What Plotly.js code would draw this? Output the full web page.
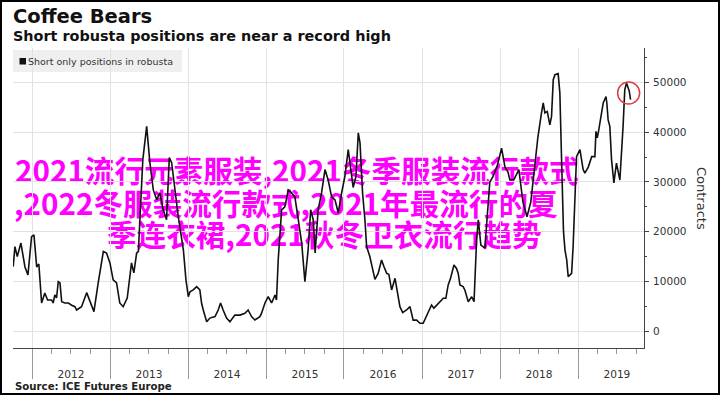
<!DOCTYPE html>
<html><head><meta charset="utf-8">
<script src="https://cdn.plot.ly/plotly-3.0.1.min.js"></script>
<style>
html,body{margin:0;padding:0;background:#fff}
#wrap{position:relative;width:720px;height:395px;background:#fff}
#chart{position:absolute;left:0;top:0;width:720px;height:395px;z-index:2}
#overlay{position:absolute;left:0;top:0;width:720px;height:395px;z-index:1}
.ol{position:absolute;white-space:nowrap;font-family:"Noto Sans CJK SC",sans-serif;font-size:29.6px;line-height:32px;font-weight:bold;color:#ff00ff}
#frame{position:absolute;left:0;top:0;width:720px;height:395px;box-sizing:border-box;border:2px solid #000;pointer-events:none;z-index:3}
</style>
</head><body><div id="wrap"><div id="overlay"></div><div id="chart"></div><div id="frame"></div></div>
<script>
const dates = [
"2011-10-05","2011-10-13","2011-10-24","2011-11-10","2011-11-29","2011-12-13","2011-12-30",
"2012-01-10","2012-01-23","2012-02-02","2012-02-15","2012-03-01","2012-03-14","2012-04-02","2012-04-09","2012-04-17","2012-04-25","2012-05-03","2012-05-11","2012-05-19","2012-06-03","2012-06-19","2012-07-05","2012-07-20","2012-07-28","2012-08-20","2012-09-13","2012-09-28","2012-10-17","2012-11-06","2012-11-30","2012-12-15","2012-12-31",
"2013-01-15","2013-01-31","2013-02-15","2013-03-03","2013-03-22","2013-04-11","2013-04-22","2013-05-05","2013-05-13","2013-05-20","2013-05-28","2013-06-03","2013-06-21","2013-06-28","2013-07-06","2013-07-22","2013-08-07","2013-08-22","2013-09-06","2013-09-22","2013-10-05","2013-10-16","2013-11-01","2013-11-16","2013-12-10","2013-12-18","2013-12-22",
"2014-01-02","2014-01-10","2014-01-25","2014-02-10","2014-02-25","2014-03-05","2014-03-13","2014-03-29","2014-04-13","2014-05-07","2014-05-22","2014-06-02","2014-06-14","2014-06-30","2014-07-16","2014-08-08","2014-09-01","2014-09-24","2014-10-09","2014-10-25","2014-11-10","2014-12-03","2014-12-11","2014-12-27",
"2015-01-11","2015-01-27","2015-02-12","2015-02-19","2015-02-27","2015-03-07","2015-03-15","2015-03-30","2015-04-15","2015-05-01","2015-05-16","2015-06-01","2015-06-17","2015-07-02","2015-07-17","2015-07-29","2015-08-10","2015-08-19","2015-09-02","2015-09-18","2015-10-04","2015-10-19","2015-11-04","2015-11-20","2015-12-05","2015-12-21",
"2016-01-05","2016-01-21","2016-01-29","2016-02-13","2016-02-26","2016-03-08","2016-03-16","2016-03-28","2016-04-08","2016-04-16","2016-05-01","2016-05-14","2016-05-25","2016-06-09","2016-06-25","2016-07-06","2016-07-19","2016-07-29","2016-08-11","2016-08-27","2016-09-11","2016-09-19","2016-10-02","2016-10-20","2016-11-05","2016-11-20","2016-12-06","2016-12-22",
"2017-01-06","2017-01-22","2017-02-14","2017-02-25","2017-03-17","2017-04-10","2017-04-22","2017-05-03","2017-05-14","2017-05-30","2017-06-11","2017-06-19","2017-06-27","2017-07-12","2017-07-20","2017-08-05","2017-08-21","2017-09-01","2017-09-13","2017-09-21","2017-10-03","2017-10-22","2017-10-31","2017-11-14","2017-11-28","2017-12-17",
"2018-01-08","2018-01-24","2018-02-07","2018-02-16","2018-03-07","2018-03-30","2018-04-18","2018-05-07","2018-05-25","2018-06-13","2018-06-27","2018-07-14","2018-07-22","2018-07-30","2018-08-10","2018-08-22","2018-08-30","2018-09-07","2018-09-15","2018-09-30","2018-10-08","2018-10-16","2018-10-25","2018-11-01","2018-11-09","2018-11-16","2018-12-02","2018-12-09","2018-12-17","2018-12-25",
"2019-01-10","2019-01-25","2019-02-02","2019-02-18","2019-03-06","2019-03-21","2019-03-26","2019-04-01","2019-04-07","2019-04-22","2019-04-29","2019-05-12","2019-05-16","2019-05-22","2019-05-30","2019-06-07","2019-06-18","2019-06-30","2019-07-07","2019-07-16","2019-07-31","2019-08-08","2019-08-16","2019-08-29","2019-09-04"
];
const shortPositions = [
12960,17000,15000,17700,12900,11300,19000,
19350,12900,13500,5640,7660,6250,6250,5640,7260,6650,9940,9700,5900,5640,5640,5200,4900,4230,4900,7720,5900,3900,9680,16000,15700,13700,
10280,9680,5640,4900,6650,13700,11700,15700,16000,22400,28400,34500,41200,37900,33900,28400,26400,27800,24400,22400,34900,33900,28400,23000,16300,12300,10300,
6900,7900,8270,8930,8270,5640,4230,1870,2600,2900,4230,5640,4230,2600,1870,3200,3200,3570,4230,2900,2220,2900,3600,5640,
6900,5640,7260,6250,14300,20360,24400,25000,28400,27800,27000,22400,17700,9940,16300,24400,22400,15700,24400,27800,32500,30400,27000,26400,23800,27800,
31100,36500,33500,28900,31100,39900,37900,27800,22400,17000,15000,12300,10400,11600,14300,13000,11600,11400,8270,10600,6900,4900,3700,4230,4900,2200,2200,1550,
1550,3200,5240,4600,5580,6590,6590,9270,10600,13300,12600,11600,9270,8930,8270,5900,6900,5900,18300,22400,17300,16700,22000,30000,31000,33000,
36800,33000,32000,30400,30500,32500,26000,23000,26000,33000,39000,43900,45900,43900,44200,41500,43200,50600,51600,51800,47900,34500,20000,16300,14300,10950,11600,17000,27000,35100,
36500,32500,31800,33000,35100,35100,40200,38900,40200,43900,45900,47200,45900,42500,41200,34500,29800,33800,32000,30400,41200,48600,49900,48300,46600
];
const yearTicks = ["2012-01-01","2013-01-01","2014-01-01","2015-01-01","2016-01-01","2017-01-01","2018-01-01","2019-01-01"];
const yearLabelPos = ["2012-07-02","2013-07-02","2014-07-02","2015-07-02","2016-07-02","2017-07-02","2018-07-02","2019-07-02"];
const yearLabels = ["2012","2013","2014","2015","2016","2017","2018","2019"];
const yTicks = [0,10000,20000,30000,40000,50000];
const xRange = ["2011-10-04","2019-11-06"];
const yRange = [-3420, 56970];
const circleDate = "2019-08-26", circleValue = 47900;
const overlayLines = ["2021流行元素服装,2021冬季服装流行款式", ",2022冬服装流行款式,2021年最流行的夏", "季连衣裙,2021秋冬卫衣流行趋势"];
const overlayLeft = [15, 14, 107];
const overlayTop = [154, 187, 218];

const ov = document.getElementById('overlay');
overlayLines.forEach((t,i)=>{const d=document.createElement('div');d.className='ol';d.style.left=overlayLeft[i]+'px';d.style.top=overlayTop[i]+'px';d.textContent=t;ov.appendChild(d);});

const L=13, R=644, T=48, B=348;
const px = x => (x-L)/(R-L), py = y => (B-y)/(B-T);
const F = "DejaVu Sans";

const trace = {x: dates, y: shortPositions, type:'scatter', mode:'lines', line:{color:'#111', width:1.6}, xaxis:'x', yaxis:'y', showlegend:false, hoverinfo:'skip'};

const ann = [
 {xref:'paper', yref:'paper', x:px(13), y:py(16.5), xanchor:'left', yanchor:'middle', xshift:-2, showarrow:false, text:'<b>Coffee Bears</b>', font:{family:F, size:19.5, color:'#111'}},
 {xref:'paper', yref:'paper', x:px(13), y:py(36), xanchor:'left', yanchor:'middle', xshift:-2, showarrow:false, text:'<b>Short robusta positions are near a record high</b>', font:{family:F, size:14.4, color:'#111'}},
 {xref:'paper', yref:'paper', x:px(28), y:py(61), xanchor:'left', yanchor:'middle', xshift:-2, showarrow:false, text:'Short only positions in robusta', font:{family:F, size:9.5, color:'#333'}},
 {xref:'paper', yref:'paper', x:px(15), y:py(386), xanchor:'left', yanchor:'middle', xshift:-2, showarrow:false, text:'<b>Source: ICE Futures Europe</b>', font:{family:F, size:10.2, color:'#222'}},
 {xref:'paper', yref:'paper', x:px(702), y:py(198), xanchor:'center', yanchor:'middle', showarrow:false, textangle:90, text:'Contracts', font:{family:F, size:13, color:'#333'}}
];

const shapes = [
 {type:'rect', xref:'paper', yref:'paper', x0:px(13), x1:px(182), y0:py(72), y1:py(50), fillcolor:'#efefef', line:{width:0}, layer:'below'},
 {type:'rect', xref:'paper', yref:'paper', x0:px(19.5), x1:px(26), y0:py(64.5), y1:py(58), fillcolor:'#111', line:{width:0}},
 {type:'circle', xref:'x', yref:'y', xsizemode:'pixel', ysizemode:'pixel', xanchor:circleDate, yanchor:circleValue, x0:-11, x1:11, y0:-11, y1:11, line:{color:'#e03c3c', width:1.5}, fillcolor:'rgba(0,0,0,0)'}
];

const layout = {
 width:720, height:395, margin:{l:L, r:720-R, t:T, b:395-B}, paper_bgcolor:'rgba(0,0,0,0)', plot_bgcolor:'rgba(0,0,0,0)',
 font:{family:F, color:'#333'},
 xaxis:{type:'date', range:xRange, tickmode:'array', tickvals:yearTicks, showticklabels:false, ticks:'outside', ticklen:30, tickcolor:'#999', tickwidth:1,
   showgrid:true, gridcolor:'#e2e2e2', gridwidth:1, showline:true, linecolor:'#444', linewidth:1, zeroline:false,
   minor:{tickmode:'linear', tick0:'2011-01-01', dtick:'M3', ticks:'outside', ticklen:5, tickcolor:'#999', showgrid:false}},
 xaxis2:{type:'date', range:xRange, overlaying:'x', anchor:'y', side:'bottom', tickmode:'array', tickvals:yearLabelPos, ticktext:yearLabels,
   ticks:'outside', ticklen:16, tickcolor:'rgba(0,0,0,0)', showgrid:false, showline:false, zeroline:false, tickfont:{family:F, size:10.6, color:'#333'}},
 yaxis:{side:'right', range:yRange, tickmode:'array', tickvals:yTicks, tickformat:'d', ticks:'outside', ticklen:4, tickcolor:'#444', showline:true, linecolor:'#444', linewidth:1,
   showgrid:true, gridcolor:'#e2e2e2', zeroline:false, tickfont:{family:F, size:10.5, color:'#333'}, ticklabelstandoff:2,
   minor:{tickmode:'linear', tick0:0, dtick:5000, ticks:'outside', ticklen:2, tickcolor:'#444', showgrid:false}},
 showlegend:false, annotations:ann, shapes:shapes
};
const trace2 = {x:[xRange[0]], y:[null], xaxis:'x2', yaxis:'y', type:'scatter', mode:'lines', showlegend:false, hoverinfo:'skip'};
Plotly.newPlot('chart', [trace, trace2], layout, {staticPlot:true, displayModeBar:false});
</script></body></html>
